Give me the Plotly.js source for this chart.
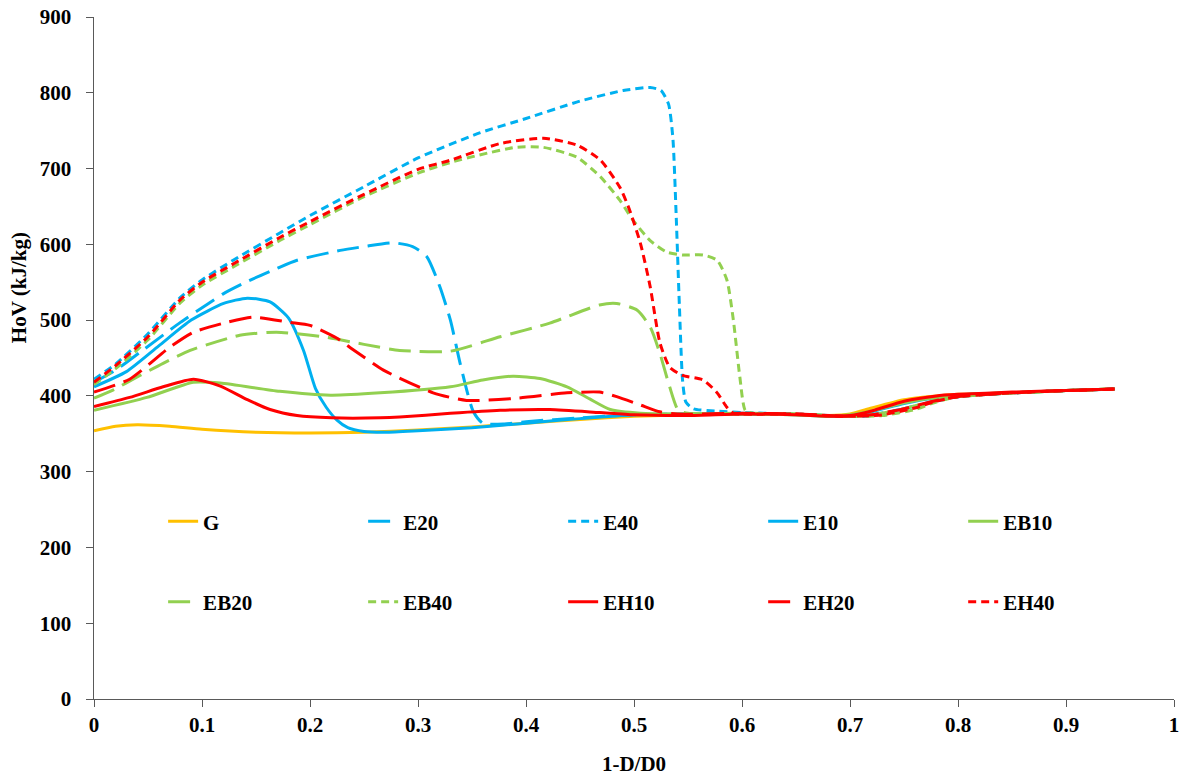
<!DOCTYPE html>
<html>
<head>
<meta charset="utf-8">
<script src="https://cdn.plot.ly/plotly-3.0.1.min.js"></script>
<style>html,body{margin:0;padding:0;background:#fff;}#chart{width:1182px;height:779px;}</style>
</head>
<body>
<div id="chart"></div>
<script>
// ---- data ----
const names = ["G","E20","E40","E10","EB10","EB20","EB40","EH10","EH20","EH40"];

const G_x = [0,0.02,0.04,0.07,0.1,0.15,0.2,0.25,0.3,0.35,0.4,0.45,0.5,0.55,0.6,0.65,0.68,0.7,0.72,0.75,0.78,0.8,0.85,0.9,0.945];
const G_y = [354,360,362,360,356,352,351,352,355,359,364,369,373,375,376,375,374,376,384,395,400,402,404,407,409];

const E20_x = [0,0.02,0.043,0.08,0.105,0.12,0.142,0.169,0.188,0.228,0.25,0.277,0.295,0.308,0.32,0.33,0.339,0.351,0.36,0.38,0.4,0.45,0.5,0.55,0.6,0.65,0.7,0.72,0.75,0.78,0.8,0.85,0.9,0.945];
const E20_y = [418,434,458,497,521,535,551,568,579,592,597,602,597,584,545,500,443,380,364,363,366,371,375,376,377,376,373,375,383,394,399,404,407,409];

const E40_x = [0,0.02,0.05,0.08,0.1,0.13,0.172,0.2,0.25,0.3,0.357,0.4,0.45,0.49,0.515,0.525,0.532,0.536,0.539,0.542,0.545,0.548,0.555,0.575,0.6,0.65,0.7,0.72,0.75,0.78,0.8,0.85,0.9,0.945];
const E40_y = [422,442,482,530,553,580,615,638,676,714,747,766,789,803,807,803,785,740,640,520,420,392,383,380,378,376,373,374,382,393,399,404,407,409];

const E10_x = [0,0.03,0.06,0.09,0.12,0.142,0.163,0.18,0.194,0.205,0.215,0.225,0.235,0.25,0.27,0.3,0.35,0.4,0.45,0.5,0.55,0.6,0.65,0.68,0.7,0.72,0.75,0.78,0.8,0.85,0.9,0.945];
const E10_y = [412,432,466,500,522,529,524,503,460,410,385,368,358,353,352,354,358,364,370,375,376,376,375,373,374,379,390,398,401,404,407,409];

const EB10_x = [0,0.049,0.092,0.117,0.172,0.219,0.265,0.33,0.36,0.388,0.413,0.438,0.459,0.478,0.506,0.55,0.6,0.65,0.68,0.7,0.72,0.75,0.78,0.8,0.85,0.9,0.945];
const EB10_y = [381,398,418,417,406,401,404,412,421,426,423,412,396,382,377,376,376,375,373,375,380,391,398,401,404,407,409];

const EB20_x = [0,0.018,0.04,0.064,0.089,0.135,0.169,0.212,0.25,0.283,0.33,0.376,0.422,0.468,0.484,0.503,0.515,0.524,0.533,0.541,0.55,0.6,0.65,0.7,0.72,0.75,0.78,0.8,0.85,0.9,0.945];
const EB20_y = [397,408,425,443,460,480,484,478,468,460,459,478,496,520,522,513,491,456,412,381,377,377,376,373,375,383,394,399,404,407,409];

const EB40_x = [0,0.02,0.05,0.08,0.1,0.13,0.172,0.2,0.25,0.3,0.33,0.357,0.391,0.416,0.447,0.469,0.487,0.499,0.515,0.53,0.545,0.564,0.577,0.586,0.592,0.598,0.603,0.61,0.65,0.7,0.73,0.76,0.78,0.8,0.85,0.9,0.945];
const EB40_y = [415,436,474,523,546,571,605,626,663,694,708,718,728,728,715,689,658,632,605,590,586,586,579,553,500,425,381,377,376,373,374,382,392,399,404,407,409];

const EH10_x = [0,0.033,0.064,0.092,0.117,0.142,0.163,0.188,0.22,0.265,0.283,0.33,0.376,0.422,0.468,0.5,0.55,0.6,0.65,0.68,0.7,0.72,0.75,0.78,0.8,0.85,0.9,0.945];
const EH10_y = [386,398,412,422,413,395,382,374,371,371,372,377,381,382,378,375,374,376,375,373,374,380,393,400,402,405,407,409];

const EH20_x = [0,0.033,0.07,0.092,0.123,0.147,0.181,0.2,0.225,0.237,0.268,0.314,0.345,0.392,0.438,0.468,0.484,0.506,0.524,0.54,0.6,0.65,0.7,0.72,0.75,0.78,0.8,0.85,0.9,0.945];
const EH20_y = [405,422,464,484,497,504,497,493,476,464,434,404,394,397,404,405,399,388,379,376,377,376,373,375,383,394,399,404,407,409];

const EH40_x = [0,0.02,0.05,0.08,0.1,0.13,0.172,0.2,0.25,0.3,0.33,0.376,0.416,0.447,0.469,0.487,0.496,0.506,0.515,0.524,0.533,0.545,0.564,0.577,0.586,0.592,0.6,0.65,0.7,0.73,0.76,0.78,0.8,0.85,0.9,0.945];
const EH40_y = [418,440,478,527,550,575,609,630,666,699,711,733,740,731,711,675,645,601,544,470,438,427,421,404,385,377,376,376,373,375,384,393,399,404,407,409];

const xTitle = "1-D/D0";
const yTitle = "HoV (kJ/kg)";

// ---- styles ----
const YEL = "#FFC000", BLU = "#00B0F0", GRN = "#92D050", RED = "#FF0000";
const SOLID = "solid", LDASH = "22px,9px", SDOT = "8px,5px";
const series = [
  [G_x, G_y, YEL, SOLID],
  [E20_x, E20_y, BLU, LDASH],
  [E40_x, E40_y, BLU, SDOT],
  [E10_x, E10_y, BLU, SOLID],
  [EB10_x, EB10_y, GRN, SOLID],
  [EB20_x, EB20_y, GRN, LDASH],
  [EB40_x, EB40_y, GRN, SDOT],
  [EH10_x, EH10_y, RED, SOLID],
  [EH20_x, EH20_y, RED, LDASH],
  [EH40_x, EH40_y, RED, SDOT]
];

const legendId = i => (i === 0 ? "legend" : "legend" + (i + 1));

const traces = series.map((s, i) => ({
  type: "scatter", mode: "lines", name: names[i],
  x: s[0], y: s[1], legend: legendId(i),
  line: {color: s[2], dash: s[3], width: 3, shape: "spline", smoothing: 0.6}
}));

const FONT = {family: "Liberation Serif, Times New Roman, serif", size: 21, color: "#000", weight: "bold"};

const layout = {
  width: 1182, height: 779,
  margin: {l: 94, r: 8, t: 17, b: 80},
  paper_bgcolor: "#fff", plot_bgcolor: "#fff",
  font: FONT,
  showlegend: true,
  xaxis: {
    range: [0, 1], dtick: 0.1, tick0: 0,
    showgrid: false, zeroline: false,
    showline: true, linecolor: "#595959", linewidth: 1,
    ticks: "outside", ticklen: 7, tickcolor: "#595959",
    tickfont: FONT,
    title: {text: xTitle, font: FONT, standoff: 20}
  },
  yaxis: {
    range: [0, 900], dtick: 100, tick0: 0,
    showgrid: false, zeroline: false,
    showline: true, linecolor: "#595959", linewidth: 1,
    ticks: "outside", ticklen: 7, tickcolor: "#595959",
    tickfont: FONT, ticksuffix: "  "
  },
  annotations: [{
    text: yTitle, xref: "paper", yref: "paper",
    x: -0.07, y: 0.603, xanchor: "center", yanchor: "middle",
    textangle: -90, showarrow: false, font: FONT
  }]
};

// one small legend box per entry: 5 columns x 2 rows, like the reference
names.forEach((n, i) => {
  const col = i % 5, row = Math.floor(i / 5);
  layout[legendId(i)] = {
    orientation: "v", xanchor: "left", yanchor: "middle",
    x: 0.064 + col * 0.1852, y: row === 0 ? 0.26 : 0.142,
    bgcolor: "rgba(0,0,0,0)", font: FONT
  };
});

Plotly.newPlot("chart", traces, layout, {displayModeBar: false, staticPlot: true});
</script>
</body>
</html>
